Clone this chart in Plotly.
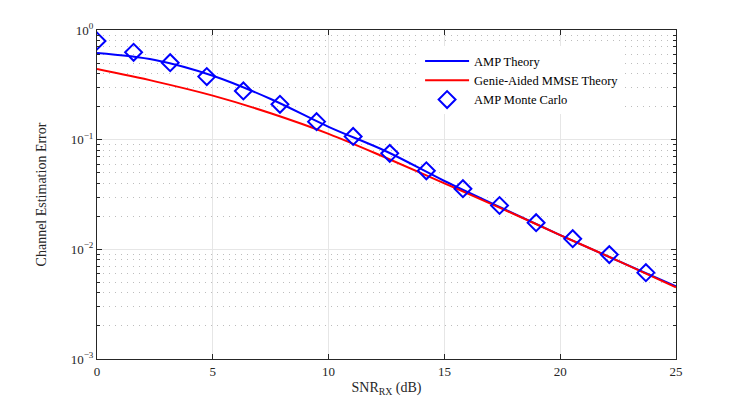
import plotly.graph_objects as go

# theory curves, every 2.5 dB
snr_theory = [0, 2.5, 5, 7.5, 10, 12.5, 15, 17.5, 20, 22.5, 25]
amp_theory = [0.617, 0.533, 0.383, 0.235, 0.131, 0.078, 0.042, 0.0237, 0.0135, 0.00785, 0.0046]
mmse_theory = [0.44, 0.34, 0.252, 0.174, 0.113, 0.068, 0.040, 0.0234, 0.0135, 0.00785, 0.00451]

# Monte Carlo points
snr_mc = [0, 1.58, 3.16, 4.74, 6.32, 7.9, 9.48, 11.06, 12.64, 14.22, 15.8,
          17.38, 18.96, 20.54, 22.12, 23.7]
amp_mc = [0.794, 0.626, 0.503, 0.376, 0.278, 0.210, 0.146, 0.107, 0.075, 0.052,
          0.0357, 0.0251, 0.0175, 0.0125, 0.00895, 0.00613]

y_ticks = [1e-3, 1e-2, 1e-1, 1]
y_labels = ["10<sup>\u22123</sup>", "10<sup>\u22122</sup>", "10<sup>\u22121</sup>", "10<sup>0</sup>"]

font = "Liberation Serif"

fig = go.Figure()
fig.add_trace(
    go.Scatter(
        name="AMP Theory",
        x=snr_theory,
        y=amp_theory,
        mode="lines",
        line=dict(color="#0000ff", width=2, shape="spline"),
    )
)
fig.add_trace(
    go.Scatter(
        name="Genie-Aided MMSE Theory",
        x=snr_theory,
        y=mmse_theory,
        mode="lines",
        line=dict(color="#ff0000", width=2, shape="spline"),
    )
)
fig.add_trace(
    go.Scatter(
        name="AMP Monte Carlo",
        x=snr_mc,
        y=amp_mc,
        mode="markers",
        marker=dict(symbol="diamond-open", size=13, color="#0000ff", line=dict(width=2, color="#0000ff")),
    )
)

# page body has an 8px margin, so the figure is a bit smaller than the window
fig.update_layout(
    width=739,
    height=397,
    margin=dict(l=89, r=71, t=22, b=46, autoexpand=False),
    paper_bgcolor="white",
    plot_bgcolor="white",
    font=dict(family=font, size=12, color="#262626"),
    showlegend=True,
    legend=dict(
        x=0.558,
        y=0.95,
        xanchor="left",
        yanchor="top",
        bgcolor="white",
        borderwidth=0,
        font=dict(family=font, size=12.5, color="#000000"),
        tracegroupgap=0,
        itemwidth=44,
    ),
)

fig.update_xaxes(
    range=[0, 25],
    dtick=5,
    ticks="inside",
    ticklen=5,
    tickcolor="#262626",
    showline=True,
    linecolor="#262626",
    linewidth=1,
    mirror="ticks",
    showgrid=True,
    gridcolor="#e6e6e6",
    zeroline=False,
    tickfont=dict(family=font, size=13, color="#262626"),
    title=dict(text="SNR<sub>RX</sub> (dB)", font=dict(family=font, size=14, color="#262626"), standoff=4),
)

fig.update_yaxes(
    type="log",
    range=[-3, 0],
    tickmode="array",
    tickvals=y_ticks,
    ticktext=y_labels,
    ticks="inside",
    ticklen=5,
    tickcolor="#262626",
    showline=True,
    linecolor="#262626",
    linewidth=1,
    mirror="ticks",
    showgrid=True,
    gridcolor="#e6e6e6",
    zeroline=False,
    minor=dict(
        dtick="D1",
        ticks="inside",
        ticklen=3,
        tickcolor="#262626",
        showgrid=True,
        gridcolor="#bdbdbd",
        griddash="1px,5px",
    ),
    tickfont=dict(family=font, size=13, color="#262626"),
    title=dict(text="Channel Estimation Error", font=dict(family=font, size=14, color="#262626"), standoff=20),
)

fig.write_html("out.html")
